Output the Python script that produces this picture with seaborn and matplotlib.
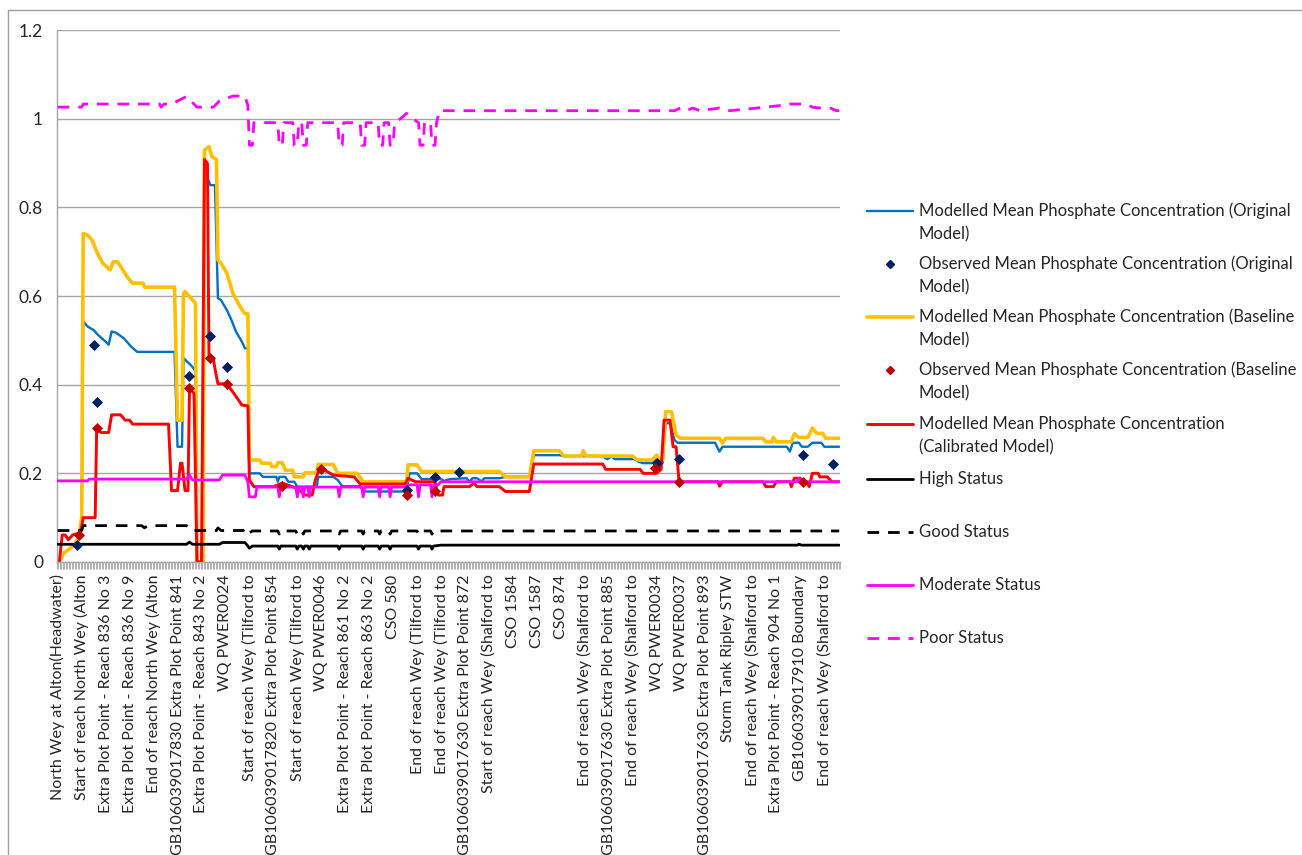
import matplotlib
matplotlib.use("Agg")
import matplotlib.pyplot as plt
from matplotlib.lines import Line2D
from matplotlib.ticker import FixedLocator
import pandas as pd
import seaborn as sns

# ---- categories along the river (one label every 16 profile points) ----
site_labels = [
    "North Wey at Alton(Headwater)",
    "Start of reach North Wey (Alton",
    "Extra Plot Point - Reach 836 No 3",
    "Extra Plot Point - Reach 836 No 9",
    "End of reach North Wey (Alton",
    "GB106039017830 Extra Plot Point 841",
    "Extra Plot Point - Reach 843 No 2",
    "WQ PWER0024",
    "Start of reach Wey (Tilford to",
    "GB106039017820 Extra Plot Point 854",
    "Start of reach Wey (Tilford to",
    "WQ PWER0046",
    "Extra Plot Point - Reach 861 No 2",
    "Extra Plot Point - Reach 863 No 2",
    "CSO 580",
    "End of reach Wey (Tilford to",
    "End of reach Wey (Tilford to",
    "GB106039017630 Extra Plot Point 872",
    "Start of reach Wey (Shalford to",
    "CSO 1584",
    "CSO 1587",
    "CSO 874",
    "End of reach Wey (Shalford to",
    "GB106039017630 Extra Plot Point 885",
    "End of reach Wey (Shalford to",
    "WQ PWER0034",
    "WQ PWER0037",
    "GB106039017630 Extra Plot Point 893",
    "Storm Tank Ripley STW",
    "End of reach Wey (Shalford to",
    "Extra Plot Point - Reach 904 No 1",
    "GB106039017910 Boundary",
    "End of reach Wey (Shalford to",
]
n_points = 523
label_step = 16

# ---- modelled profiles: (profile point, mg/l) ----
original_model = [
    (1, 0.0), (4, 0.02), (10, 0.035), (14, 0.055), (16, 0.08), (17, 0.542), (20, 0.531),
    (24, 0.523), (27, 0.512), (32, 0.497), (34, 0.49), (36, 0.52), (39, 0.517), (44, 0.505),
    (49, 0.486), (53, 0.474), (78, 0.474), (80, 0.26), (83, 0.26), (84, 0.46), (90, 0.44),
    (92, 0.43), (93, 0.0), (97, 0.0), (98, 0.86), (100, 0.866), (102, 0.85), (105, 0.85),
    (107, 0.595), (109, 0.591), (113, 0.568), (116, 0.546), (119, 0.52), (123, 0.497),
    (125, 0.482), (127, 0.482), (128, 0.2), (135, 0.2), (137, 0.192), (146, 0.192),
    (147, 0.181), (148, 0.192), (152, 0.192), (154, 0.181), (158, 0.181), (160, 0.17),
    (173, 0.17), (174, 0.192), (184, 0.192), (187, 0.185), (190, 0.171), (202, 0.171),
    (204, 0.159), (233, 0.159), (235, 0.2), (240, 0.2), (243, 0.187), (256, 0.187),
    (258, 0.183), (262, 0.187), (273, 0.189), (275, 0.181), (277, 0.189), (280, 0.189),
    (283, 0.182), (285, 0.189), (295, 0.189), (299, 0.192), (315, 0.192), (318, 0.241),
    (335, 0.241), (338, 0.239), (362, 0.239), (364, 0.238), (367, 0.232), (370, 0.238),
    (372, 0.232), (385, 0.232), (388, 0.226), (391, 0.223), (397, 0.223), (400, 0.234),
    (402, 0.223), (404, 0.223), (406, 0.313), (409, 0.313), (412, 0.275), (414, 0.269),
    (439, 0.269), (442, 0.249), (444, 0.26), (487, 0.26), (489, 0.249), (491, 0.269),
    (495, 0.269), (497, 0.26), (501, 0.26), (504, 0.269), (510, 0.269), (512, 0.26),
    (522, 0.26),
]
baseline_model = [
    (1, 0.0), (4, 0.02), (10, 0.035), (14, 0.055), (16, 0.1), (17, 0.741), (20, 0.737),
    (23, 0.726), (26, 0.70), (30, 0.674), (35, 0.659), (37, 0.677), (40, 0.677), (47, 0.64),
    (50, 0.629), (57, 0.629), (58, 0.62), (78, 0.62), (80, 0.32), (83, 0.32), (84, 0.606),
    (85, 0.61), (87, 0.602), (92, 0.584), (93, 0.0), (97, 0.0), (98, 0.929), (101, 0.937),
    (103, 0.914), (106, 0.908), (107, 0.681), (109, 0.674), (113, 0.651), (117, 0.606),
    (122, 0.575), (125, 0.56), (127, 0.56), (128, 0.23), (135, 0.23), (136, 0.223),
    (142, 0.223), (143, 0.215), (146, 0.215), (147, 0.224), (150, 0.224), (152, 0.207),
    (157, 0.207), (158, 0.192), (164, 0.192), (165, 0.201), (173, 0.201), (174, 0.22),
    (184, 0.22), (187, 0.2), (200, 0.2), (204, 0.181), (233, 0.181), (234, 0.219),
    (240, 0.219), (243, 0.204), (295, 0.204), (299, 0.192), (315, 0.192), (318, 0.251),
    (335, 0.251), (338, 0.239), (350, 0.239), (351, 0.251), (353, 0.239), (384, 0.239),
    (387, 0.23), (397, 0.23), (400, 0.241), (402, 0.23), (404, 0.23), (406, 0.339),
    (410, 0.339), (413, 0.286), (416, 0.279), (442, 0.279), (444, 0.268), (446, 0.279),
    (471, 0.279), (473, 0.271), (477, 0.271), (478, 0.281), (480, 0.271), (490, 0.271),
    (492, 0.289), (495, 0.281), (501, 0.281), (504, 0.302), (507, 0.29), (511, 0.29),
    (513, 0.279), (522, 0.279),
]
calibrated_model = [
    (1, 0.0), (3, 0.061), (5, 0.061), (7, 0.05), (10, 0.061), (15, 0.066), (16, 0.08),
    (17, 0.1), (25, 0.1), (26, 0.301), (29, 0.292), (34, 0.292), (36, 0.332), (42, 0.332),
    (45, 0.32), (48, 0.32), (50, 0.311), (74, 0.311), (76, 0.161), (80, 0.161), (82, 0.223),
    (83, 0.223), (85, 0.161), (87, 0.161), (88, 0.392), (91, 0.38), (93, 0.0), (96, 0.0),
    (98, 0.908), (100, 0.899), (101, 0.463), (104, 0.456), (106, 0.418), (107, 0.402),
    (113, 0.402), (116, 0.388), (120, 0.369), (123, 0.354), (127, 0.352), (128, 0.185),
    (131, 0.17), (144, 0.17), (150, 0.178), (160, 0.166), (165, 0.151), (170, 0.151),
    (172, 0.185), (175, 0.211), (180, 0.204), (184, 0.196), (198, 0.192), (202, 0.176),
    (232, 0.176), (234, 0.189), (239, 0.181), (252, 0.181), (254, 0.151), (257, 0.151),
    (258, 0.17), (275, 0.17), (278, 0.178), (280, 0.17), (295, 0.17), (299, 0.159),
    (315, 0.159), (318, 0.221), (364, 0.221), (366, 0.209), (389, 0.209), (391, 0.2),
    (400, 0.2), (403, 0.209), (405, 0.32), (409, 0.32), (411, 0.26), (413, 0.26),
    (415, 0.181), (441, 0.181), (442, 0.171), (444, 0.181), (471, 0.181), (473, 0.17),
    (478, 0.17), (480, 0.181), (489, 0.181), (490, 0.17), (492, 0.189), (496, 0.189),
    (497, 0.181), (500, 0.181), (502, 0.17), (504, 0.2), (508, 0.2), (509, 0.192),
    (514, 0.192), (517, 0.181), (522, 0.181),
]

# ---- observed means at monitoring points ----
observed_original = [
    (13, 0.038), (24, 0.49), (26, 0.36), (88, 0.42), (102, 0.51), (113, 0.44),
    (233, 0.162), (252, 0.191), (268, 0.202), (400, 0.224), (415, 0.232), (498, 0.241),
    (518, 0.221),
]
observed_baseline = [
    (14, 0.061), (26, 0.302), (88, 0.392), (102, 0.461), (113, 0.401), (150, 0.171),
    (176, 0.21), (233, 0.151), (252, 0.16), (399, 0.211), (415, 0.181), (498, 0.181),
]

# ---- WFD status boundaries ----
high_x = [0, 86, 88, 90, 108, 110, 125, 127, 128, 130, 147, 148, 149, 159, 160, 161, 163,
          164, 165, 167, 168, 169, 187, 188, 189, 203, 204, 205, 214, 215, 216, 221, 222,
          223, 240, 241, 242, 249, 250, 251, 256, 494, 495, 497, 522]
high_y = [0.040, 0.040, 0.045, 0.040, 0.040, 0.044, 0.044, 0.036, 0.031, 0.036, 0.036,
          0.029, 0.036, 0.036, 0.029, 0.036, 0.036, 0.029, 0.036, 0.036, 0.029, 0.036,
          0.036, 0.029, 0.036, 0.036, 0.029, 0.036, 0.036, 0.029, 0.036, 0.036, 0.029,
          0.036, 0.036, 0.029, 0.036, 0.036, 0.029, 0.036, 0.038, 0.038, 0.040, 0.038, 0.038]
good_x = [0, 16, 17, 56, 58, 60, 86, 89, 106, 107, 109, 124, 125, 127, 128, 130, 147, 148,
          149, 159, 160, 161, 163, 164, 165, 187, 188, 189, 203, 204, 205, 214, 215, 216,
          221, 222, 223, 240, 241, 242, 249, 250, 251, 256, 522]
good_y = [0.071, 0.071, 0.082, 0.082, 0.077, 0.082, 0.082, 0.071, 0.071, 0.077, 0.071,
          0.071, 0.075, 0.075, 0.066, 0.070, 0.070, 0.063, 0.070, 0.070, 0.063, 0.070,
          0.070, 0.063, 0.070, 0.070, 0.063, 0.070, 0.070, 0.063, 0.070, 0.070, 0.063,
          0.070, 0.070, 0.063, 0.070, 0.070, 0.063, 0.070, 0.070, 0.063, 0.070, 0.070, 0.070]
moderate_x = [0, 20, 21, 86, 88, 90, 108, 110, 125, 127, 128, 132, 133, 147, 148, 149, 159,
              160, 161, 163, 164, 165, 167, 168, 169, 187, 188, 189, 203, 204, 205, 214,
              215, 216, 221, 222, 223, 232, 234, 240, 241, 242, 249, 250, 251, 254, 256,
              494, 495, 497, 522]
moderate_y = [0.183, 0.183, 0.187, 0.187, 0.196, 0.185, 0.185, 0.196, 0.196, 0.181, 0.147,
              0.147, 0.169, 0.169, 0.147, 0.169, 0.169, 0.147, 0.169, 0.169, 0.147, 0.169,
              0.169, 0.147, 0.169, 0.169, 0.147, 0.169, 0.169, 0.147, 0.169, 0.169, 0.147,
              0.169, 0.169, 0.147, 0.169, 0.169, 0.174, 0.174, 0.147, 0.174, 0.174, 0.147,
              0.174, 0.174, 0.181, 0.181, 0.189, 0.181, 0.181]
poor_x = [0, 16, 17, 68, 69, 71, 76, 86, 93, 104, 108, 117, 125, 127, 128, 130, 131, 147,
          148, 150, 151, 157, 158, 160, 161, 163, 164, 166, 167, 187, 188, 190, 191, 202,
          203, 205, 206, 214, 215, 217, 218, 221, 222, 224, 225, 229, 233, 237, 241, 242,
          244, 245, 249, 250, 252, 253, 255, 412, 416, 420, 424, 429, 442, 449, 467, 481,
          489, 500, 504, 509, 516, 520, 522]
poor_y = [1.026, 1.026, 1.033, 1.033, 1.026, 1.033, 1.033, 1.05, 1.026, 1.026, 1.04, 1.051,
          1.051, 1.03, 0.94, 0.94, 0.991, 0.991, 0.94, 0.94, 0.991, 0.991, 0.94, 0.94,
          0.991, 0.991, 0.94, 0.94, 0.991, 0.991, 0.94, 0.94, 0.991, 0.991, 0.94, 0.94,
          0.991, 0.991, 0.94, 0.94, 0.991, 0.991, 0.94, 0.94, 0.991, 1.0, 1.012, 1.0,
          0.991, 0.94, 0.94, 0.991, 0.991, 0.94, 0.94, 0.991, 1.018, 1.018, 1.024, 1.018,
          1.024, 1.018, 1.024, 1.018, 1.024, 1.029, 1.033, 1.033, 1.026, 1.024, 1.024,
          1.018, 1.018]

C_BLUE, C_NAVY = "#0070C0", "#002060"
C_GOLD, C_RED, C_DARKRED = "#FFC000", "#FF0000", "#C00000"
C_MAGENTA = "#FF00FF"

sns.set_theme(style="white")
plt.rcParams["font.family"] = ["Lato", "DejaVu Sans"]

W, H = 1302, 855
fig = plt.figure(figsize=(W / 100, H / 100), dpi=100)
ax = fig.add_axes([57 / W, 1 - 562 / H, (840 - 57) / W, (562 - 30) / H])


def as_frame(pairs):
    return pd.DataFrame(pairs, columns=["point", "value"])


def draw_line(x, y, color, lw, dashes=None, z=2):
    sns.lineplot(x=x, y=y, ax=ax, color=color, linewidth=lw, sort=False,
                 estimator=None, zorder=z)
    line = ax.lines[-1]
    line.set_solid_joinstyle("round")
    if dashes is not None:
        line.set_dashes(dashes)
        line.set_dash_capstyle("butt")


for pairs, color, lw in [(original_model, C_BLUE, 1.7),
                         (baseline_model, C_GOLD, 2.6),
                         (calibrated_model, C_RED, 2.1)]:
    df = as_frame(pairs)
    draw_line(df["point"], df["value"], color, lw)

draw_line(high_x, high_y, "black", 2.0, z=3)
draw_line(good_x, good_y, "black", 2.0, dashes=(4.2, 3.2), z=3)
draw_line(moderate_x, moderate_y, C_MAGENTA, 2.0, z=3)
draw_line(poor_x, poor_y, C_MAGENTA, 2.0, dashes=(4.2, 3.2), z=3)

for pairs, color in [(observed_original, C_NAVY), (observed_baseline, C_DARKRED)]:
    df = as_frame(pairs)
    sns.scatterplot(data=df, x="point", y="value", ax=ax, marker="D", s=32,
                    color=color, edgecolor=color, linewidth=0, zorder=5)

# axes, grid, ticks
ax.set_xlim(-0.5, n_points - 0.5)
ax.set_ylim(0, 1.2)
ax.set_xlabel("")
ax.set_ylabel("")
yt = [0, 0.2, 0.4, 0.6, 0.8, 1.0, 1.2]
ax.set_yticks(yt)
ax.set_yticklabels(["0", "0.2", "0.4", "0.6", "0.8", "1", "1.2"], fontsize=12.5,
                   color="#262626")
ax.yaxis.grid(True, color="#A6A6A6", linewidth=1.0)
ax.xaxis.grid(False)
ax.set_axisbelow(True)
for side in ("top", "right"):
    ax.spines[side].set_visible(False)
for side in ("left", "bottom"):
    ax.spines[side].set_color("#A6A6A6")
    ax.spines[side].set_linewidth(1.0)

major = list(range(0, label_step * len(site_labels), label_step))
ax.xaxis.set_major_locator(FixedLocator(major))
ax.set_xticklabels(site_labels, rotation=90, fontsize=11.5, color="#262626",
                   va="top", ha="center")
ax.xaxis.set_minor_locator(FixedLocator([i - 0.5 for i in range(n_points + 1)]))
ax.tick_params(axis="x", which="major", length=0, pad=9)
ax.tick_params(axis="x", which="minor", length=5, width=0.6, color="#A6A6A6",
               direction="out", bottom=True)
ax.tick_params(axis="y", which="both", length=0, pad=10)

# legend panel
legend_items = [
    ("line", C_BLUE, 1.7, None, 211,
     ["Modelled Mean Phosphate Concentration (Original", "Model)"]),
    ("marker", C_NAVY, 0, None, 264,
     ["Observed Mean Phosphate Concentration (Original", "Model)"]),
    ("line", C_GOLD, 2.6, None, 317,
     ["Modelled Mean Phosphate Concentration (Baseline", "Model)"]),
    ("marker", C_DARKRED, 0, None, 370,
     ["Observed Mean Phosphate Concentration (Baseline", "Model)"]),
    ("line", C_RED, 2.1, None, 424,
     ["Modelled Mean Phosphate Concentration", "(Calibrated Model)"]),
    ("line", "black", 2.0, None, 479, ["High Status"]),
    ("line", "black", 2.0, (4.2, 3.2), 532, ["Good Status"]),
    ("line", C_MAGENTA, 2.0, None, 585, ["Moderate Status"]),
    ("line", C_MAGENTA, 2.0, (4.2, 3.2), 638, ["Poor Status"]),
]
for kind, color, lw, dashes, ypx, lines in legend_items:
    yf = 1 - ypx / H
    if kind == "line":
        h = Line2D([867 / W, 913 / W], [yf, yf], transform=fig.transFigure,
                   color=color, linewidth=lw)
        if dashes is not None:
            h.set_dashes(dashes)
    else:
        h = Line2D([890 / W], [yf], transform=fig.transFigure, marker="D",
                   markersize=4.5, color=color, linestyle="none")
    fig.add_artist(h)
    for k, txt in enumerate(lines):
        fig.text(919 / W, 1 - (ypx + 23 * k) / H, txt, ha="left", va="center",
                 fontsize=12, color="#262626")

# chart-area frame
frame_col = "#A0A0A0"
fig.add_artist(Line2D([8 / W, 8 / W], [0, 1 - 10 / H], transform=fig.transFigure,
                      color=frame_col, linewidth=1.0))
fig.add_artist(Line2D([8 / W, 1], [1 - 10 / H, 1 - 10 / H], transform=fig.transFigure,
                      color=frame_col, linewidth=1.0))

fig.savefig("out.png", dpi=100, facecolor="white")
